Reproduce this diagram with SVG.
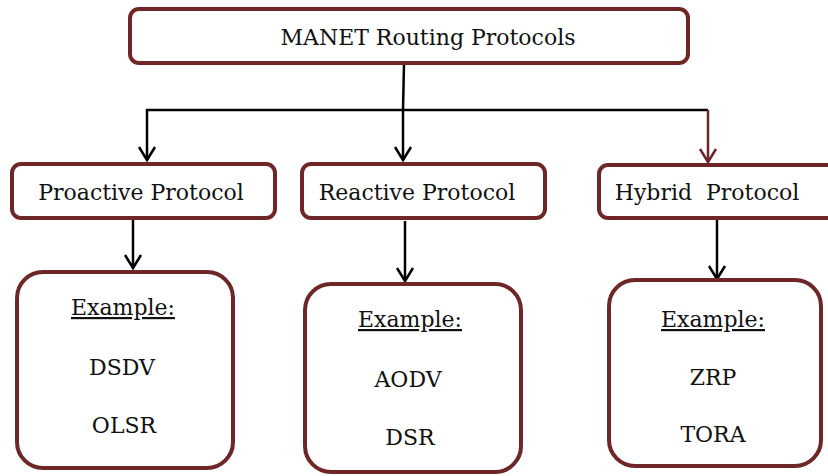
<svg xmlns="http://www.w3.org/2000/svg" width="828" height="476" viewBox="0 0 828 476">
  <defs>
    <style>
      .box { fill: #ffffff; stroke: #6e2626; stroke-width: 4; }
      .lbl { font-family: 'DejaVu Serif', serif; font-size: 22px; fill: #111111; text-anchor: middle; }
      .ul { text-decoration: underline; }
      .wire { fill: none; stroke: #000000; stroke-width: 2.5; }
      .wire-red { fill: none; stroke: #6e2626; stroke-width: 2.5; }
    </style>
  </defs>
  <rect width="828" height="476" fill="#ffffff"/>

  <!-- connectors: trunk, branches and open chevron heads -->
  <g id="connectors">
    <line class="wire" x1="404" y1="64" x2="403" y2="110"/>
    <polyline class="wire" points="147,160 147,110 708,110"/>
    <line class="wire" x1="403" y1="110" x2="403" y2="160"/>
    <line class="wire-red" x1="708" y1="110" x2="708" y2="162"/>
    <line class="wire" x1="133" y1="220" x2="133" y2="268"/>
    <line class="wire" x1="405" y1="221" x2="405" y2="281"/>
    <line class="wire" x1="717" y1="220" x2="717" y2="279"/>
    <path class="wire" d="M139,147 L147,160 L155,147"/>
    <path class="wire" d="M395,147 L403,160 L411,147"/>
    <path class="wire-red" d="M700,149 L708,162 L716,149"/>
    <path class="wire" d="M125,255 L133,268 L141,255"/>
    <path class="wire" d="M397,268 L405,281 L413,268"/>
    <path class="wire" d="M709,266 L717,279 L725,266"/>
  </g>

  <!-- root -->
  <g id="root">
    <rect class="box" x="130" y="9" width="558" height="54" rx="9"/>
    <text class="lbl" x="428" y="45">MANET Routing Protocols</text>
  </g>

  <!-- categories -->
  <g id="proactive">
    <rect class="box" x="12" y="164" width="263" height="54" rx="9"/>
    <text class="lbl" x="141" y="200">Proactive Protocol</text>
  </g>
  <g id="reactive">
    <rect class="box" x="302" y="164" width="243" height="54" rx="9"/>
    <text class="lbl" x="417" y="200">Reactive Protocol</text>
  </g>
  <g id="hybrid">
    <rect class="box" x="599" y="165" width="240" height="53" rx="9"/>
    <text class="lbl" x="707" y="200" xml:space="preserve">Hybrid  Protocol</text>
  </g>

  <!-- examples -->
  <g id="proactive-examples">
    <rect class="box" x="17" y="272" width="216" height="196" rx="26"/>
    <text class="lbl ul" x="123" y="315">Example:</text>
    <text class="lbl" x="122" y="375">DSDV</text>
    <text class="lbl" x="124" y="433">OLSR</text>
  </g>
  <g id="reactive-examples">
    <rect class="box" x="305" y="284" width="216" height="188" rx="26"/>
    <text class="lbl ul" x="410" y="327">Example:</text>
    <text class="lbl" x="408" y="387">AODV</text>
    <text class="lbl" x="410" y="445">DSR</text>
  </g>
  <g id="hybrid-examples">
    <rect class="box" x="609" y="280" width="212" height="186" rx="26"/>
    <text class="lbl ul" x="713" y="327">Example:</text>
    <text class="lbl" x="713" y="385">ZRP</text>
    <text class="lbl" x="713" y="442">TORA</text>
  </g>
</svg>
